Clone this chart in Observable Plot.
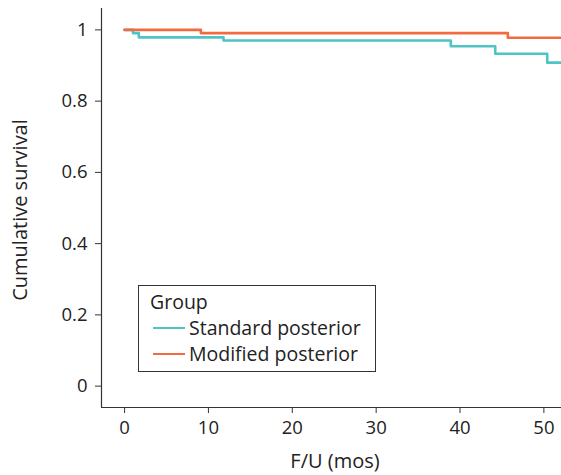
<!DOCTYPE html>
<html>
<head>
<meta charset="utf-8">
<script src="https://cdn.jsdelivr.net/npm/d3@7"></script>
<script src="https://cdn.jsdelivr.net/npm/@observablehq/plot@0.6"></script>
<style>
  body { margin: 0; background: #fff; }
  #wrap { position: relative; width: 561px; height: 475px; font-family: "Open Sans", sans-serif; color: #222; }
  #legend { position: absolute; left: 138px; top: 285px; width: 238px; height: 87px; border: 1px solid #333; box-sizing: border-box; font-size: 19.5px; line-height: 26px; padding: 3px 0 0 11px; white-space: nowrap; }
  #legend .item { display: flex; align-items: center; height: 26px; }
  #legend .sw { display: inline-block; width: 32px; height: 2.5px; margin: 0 4px 0 3px; }
  .title { position: absolute; font-size: 20px; white-space: nowrap; line-height: 1; }
  #xtitle { left: 335px; top: 451px; transform: translateX(-50%); }
  #ytitle { left: 20px; top: 210px; transform: translate(-50%, -50%) rotate(-90deg); }
</style>
</head>
<body>
<div id="wrap"></div>
<script>
// Data
const groups = ["Standard posterior", "Modified posterior"];
const colors = ["#4fc4c6", "#f26a3f"];
const stdTimes = [0, 1.0, 1.7, 11.8, 38.9, 44.2, 50.4, 52.1];
const stdSurv  = [1, 0.991, 0.979, 0.970, 0.954, 0.933, 0.908, 0.908];
const modTimes = [0, 9.1, 45.7, 52.1];
const modSurv  = [1, 0.991, 0.978, 0.978];
const xTicks = [0, 10, 20, 30, 40, 50];
const yTicks = [0, 0.2, 0.4, 0.6, 0.8, 1];
const xTitle = "F/U (mos)";
const yTitle = "Cumulative survival";
const legendTitle = "Group";

const rows = [
  ...stdTimes.map((t, i) => ({group: groups[0], t, s: stdSurv[i]})),
  ...modTimes.map((t, i) => ({group: groups[1], t, s: modSurv[i]}))
];
const xDom = [-2.75, 52.1];
const yDom = [-0.06, 1.06];

const chart = Plot.plot({
  width: 561,
  height: 475,
  marginLeft: 101,
  marginRight: 0,
  marginTop: 8,
  marginBottom: 68,
  style: {fontFamily: "'Open Sans', sans-serif", fontSize: "18.5px", color: "#222", background: "#fff"},
  x: {domain: xDom},
  y: {domain: yDom},
  color: {domain: groups, range: colors},
  marks: [
    Plot.axisX({ticks: xTicks, tickSize: 6, tickPadding: 7, label: null, stroke: "#333"}),
    Plot.axisY({ticks: yTicks, tickSize: 6, tickPadding: 8, tickFormat: d => String(d), label: null, stroke: "#333"}),
    Plot.ruleX([xDom[0]], {stroke: "#333", strokeWidth: 1.2}),
    Plot.ruleY([yDom[0]], {stroke: "#333", strokeWidth: 1.2}),
    Plot.line(rows.filter(d => d.group === groups[0]), {x: "t", y: "s", stroke: "group", curve: "step-after", strokeWidth: 2.6}),
    Plot.line(rows.filter(d => d.group === groups[1]), {x: "t", y: "s", stroke: "group", curve: "step-after", strokeWidth: 2.6})
  ]
});

const wrap = document.getElementById("wrap");
wrap.appendChild(chart);

const xt = document.createElement("div");
xt.className = "title"; xt.id = "xtitle"; xt.textContent = xTitle;
wrap.appendChild(xt);
const yt = document.createElement("div");
yt.className = "title"; yt.id = "ytitle"; yt.textContent = yTitle;
wrap.appendChild(yt);

const legend = document.createElement("div");
legend.id = "legend";
legend.innerHTML = `<div>${legendTitle}</div>` + groups.map((g, i) =>
  `<div class="item"><span class="sw" style="background:${colors[i]}"></span>${g}</div>`).join("");
wrap.appendChild(legend);
</script>
</body>
</html>
